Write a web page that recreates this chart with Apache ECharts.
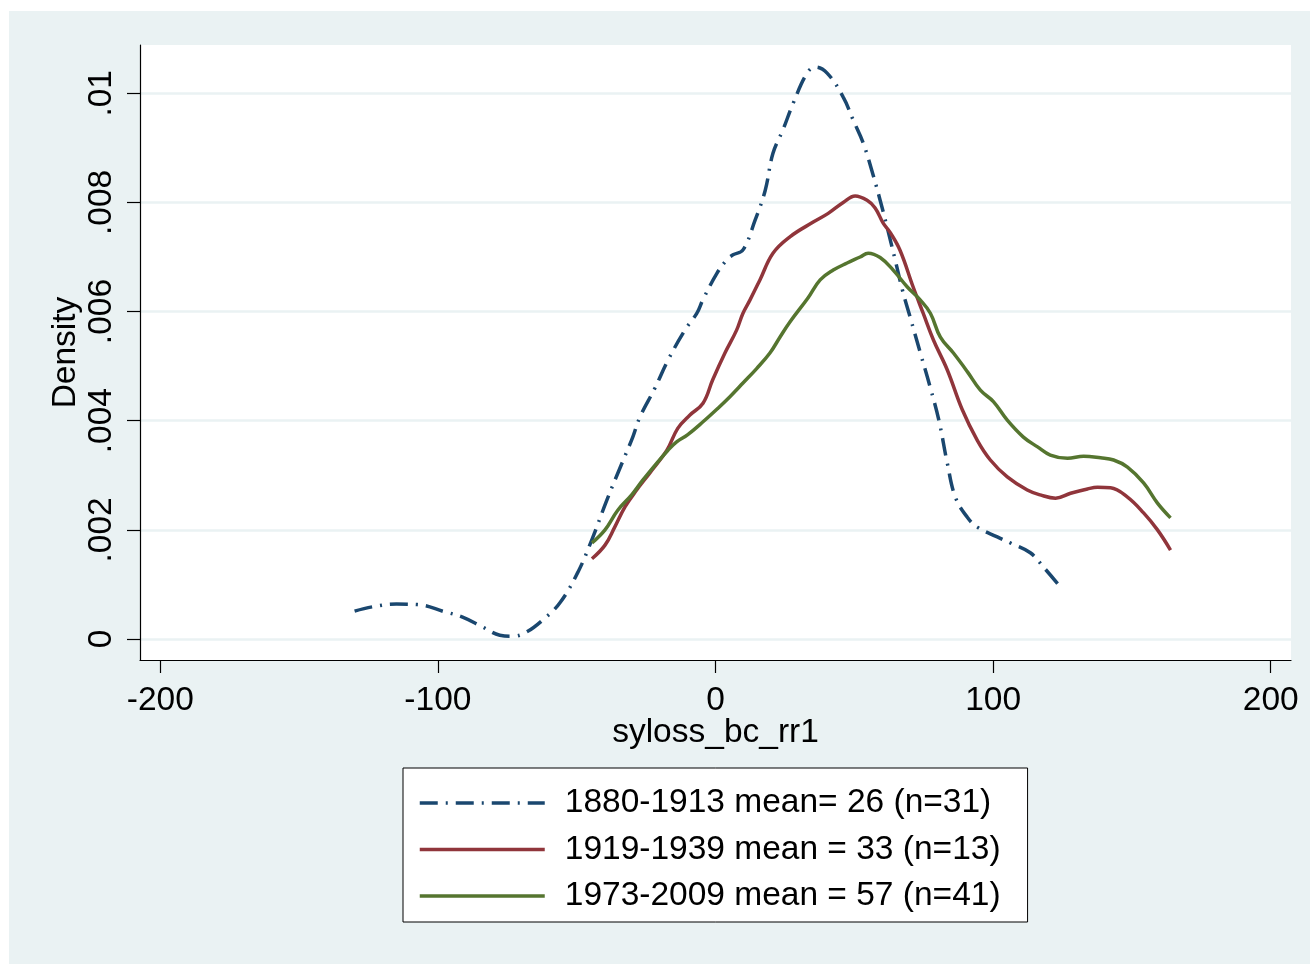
<!DOCTYPE html>
<html>
<head>
<meta charset="utf-8">
<script src="https://cdn.jsdelivr.net/npm/echarts@6/dist/echarts.min.js"></script>
<style>
  html, body { margin: 0; padding: 0; background: #ffffff; }
  #chart { position: absolute; left: 9px; top: 11px; width: 1301px; height: 953px; }
</style>
</head>
<body>
<div id="chart"></div>
<script>
// ---- data ----
const xTicks = [-200, -100, 0, 100, 200];
const yTicks = [0, 0.002, 0.004, 0.006, 0.008, 0.01];

const seriesNames = [
  '1880-1913 mean= 26 (n=31)',
  '1919-1939 mean = 33 (n=13)',
  '1973-2009 mean = 57 (n=41)'
];

const x1880 = [-130.0, -123.5, -114.9, -107.3, -97.6, -91.1, -83.9, -77.7, -73.0, -68.0, -62.2, -56.1, -49.6,
  -44.3, -39.1, -33.7, -29.8, -27.2, -21.8, -17.1, -11.0, -6.7, -4.5, 0.5, 4.1, 6.3, 9.9, 14.3, 17.9, 20.7,
  24.3, 28.0, 33.0, 35.9, 40.2, 46.0, 49.6, 53.2, 56.8, 59.3, 61.8, 64.7, 67.3, 70.1, 73.8, 77.3, 80.5,
  83.5, 86.4, 90.7, 94.3, 101.5, 106.2, 113.4, 118.1, 124.3];
const d1880 = [0.00051, 0.00059, 0.00064, 0.00063, 0.00050, 0.00040, 0.00022, 0.00007, 0.00005, 0.00013, 0.00035, 0.00066, 0.00122,
  0.00185, 0.00255, 0.00322, 0.00370, 0.00407, 0.00460, 0.00511, 0.00566, 0.00597, 0.00622, 0.00670, 0.00695, 0.00704, 0.00713, 0.00768, 0.00822, 0.00890,
  0.00933, 0.00982, 0.01037, 0.01048, 0.01037, 0.00993, 0.00951, 0.00909, 0.00850, 0.00804, 0.00755, 0.00695, 0.00640, 0.00590, 0.00524, 0.00462, 0.00400,
  0.00322, 0.00260, 0.00223, 0.00205, 0.00187, 0.00176, 0.00158, 0.00132, 0.00095];

const x1919 = [-44.5, -39.8, -36.3, -32.6, -28.4, -23.7, -17.5, -13.6, -9.3, -4.5, -1.0, 3.4, 7.6, 9.9, 12.4,
  16.0, 20.7, 26.8, 35.2, 40.6, 46.0, 50.3, 54.6, 57.5, 60.4, 62.9, 66.5, 71.2, 74.8, 78.5, 83.5, 88.9,
  94.3, 99.0, 105.1, 112.3, 117.0, 122.5, 127.9, 134.0, 137.6, 142.3, 148.4, 154.2, 159.2, 163.9];
const d1919 = [0.00147, 0.00172, 0.00205, 0.00242, 0.00273, 0.00304, 0.00346, 0.00386, 0.00410, 0.00432, 0.00475, 0.00524, 0.00566, 0.00597, 0.00621,
  0.00658, 0.00707, 0.00737, 0.00764, 0.00780, 0.00800, 0.00812, 0.00804, 0.00790, 0.00762, 0.00745, 0.00712, 0.00645, 0.00597, 0.00548, 0.00493, 0.00420,
  0.00364, 0.00328, 0.00297, 0.00273, 0.00264, 0.00258, 0.00267, 0.00275, 0.00278, 0.00277, 0.00260, 0.00231, 0.00200, 0.00163];

const x1973 = [-44.5, -39.8, -35.2, -30.2, -26.2, -21.2, -17.1, -14.0, -10.1, -4.5, 0.9, 5.2, 9.9, 14.9, 19.6, 23.2, 26.8,
  33.3, 37.7, 42.4, 47.4, 52.1, 55.0, 59.3, 64.0, 69.1, 73.8, 77.4, 81.0, 85.7, 90.7, 95.4, 100.1, 105.1,
  110.9, 116.0, 120.6, 126.8, 132.6, 138.7, 143.4, 148.4, 154.2, 159.2, 163.9];
const d1973 = [0.00176, 0.00200, 0.00236, 0.00264, 0.00291, 0.00322, 0.00346, 0.00361, 0.00374, 0.00398, 0.00423, 0.00444, 0.00469, 0.00496, 0.00524, 0.00553, 0.00581,
  0.00625, 0.00658, 0.00676, 0.00689, 0.00700, 0.00707, 0.00699, 0.00676, 0.00645, 0.00621, 0.00597, 0.00553, 0.00524, 0.00490, 0.00456, 0.00435, 0.00401,
  0.00370, 0.00352, 0.00337, 0.00331, 0.00335, 0.00332, 0.00328, 0.00315, 0.00286, 0.00249, 0.00222];

// ---- chart ----
const FONT = '"Liberation Sans", Arial, sans-serif';
const FS = 33.5;
const pairs = (xs, ys) => xs.map((v, i) => [v, ys[i]]);
const fmtY = v => (v === 0 ? '0' : String(v).replace(/^0/, ''));

const chart = echarts.init(document.getElementById('chart'));
chart.setOption({
  animation: false,
  backgroundColor: '#eaf2f3',
  textStyle: { fontFamily: FONT },
  grid: {
    left: 131, top: 34, right: 19, bottom: 304,
    show: true, backgroundColor: '#ffffff', borderWidth: 0
  },
  xAxis: {
    type: 'value', min: -207.3, max: 207.3,
    name: 'syloss_bc_rr1', nameLocation: 'middle', nameGap: 56, nameMoveOverlap: false,
    nameTextStyle: { fontSize: FS, color: '#000', fontFamily: FONT },
    axisLine: { onZero: false, lineStyle: { color: '#000', width: 1.2 } },
    axisTick: { customValues: xTicks, length: 13, lineStyle: { color: '#000', width: 1.2 } },
    axisLabel: { customValues: xTicks, fontSize: FS, color: '#000', margin: 24, fontFamily: FONT },
    splitLine: { show: false }
  },
  yAxis: {
    type: 'value', min: -0.000385, max: 0.010885,
    name: 'Density', nameLocation: 'middle', nameGap: 57, nameRotate: 90, nameMoveOverlap: false,
    nameTextStyle: { fontSize: FS, color: '#000', fontFamily: FONT },
    axisLine: { show: true, onZero: false, lineStyle: { color: '#000', width: 1.2 } },
    axisTick: { show: true, customValues: yTicks, length: 13, lineStyle: { color: '#000', width: 1.2 } },
    axisLabel: { customValues: yTicks, rotate: 90, fontSize: FS, color: '#000', margin: 21,
                 fontFamily: FONT, formatter: fmtY },
    splitLine: { show: true, lineStyle: { color: '#eaf2f3', width: 2.5 } }
  },
  legend: {
    orient: 'vertical', left: 394, top: 757,
    backgroundColor: '#ffffff', borderColor: '#000', borderWidth: 1, borderRadius: 0,
    padding: [18, 27, 9, 15],
    itemWidth: 125, itemHeight: 20, itemGap: 12.5,
    itemStyle: { color: 'rgba(0,0,0,0)', borderColor: 'rgba(0,0,0,0)', borderWidth: 0 },
    lineStyle: { width: 3.5 },
    textStyle: { fontSize: FS, color: '#000', fontFamily: FONT, padding: [0, 0, 0, 15], lineHeight: 33 },
    data: seriesNames
  },
  series: [
    {
      name: seriesNames[0], type: 'line', data: pairs(x1880, d1880),
      showSymbol: false, symbol: 'none', smooth: 0.4,
      lineStyle: { color: '#1a476f', width: 3.5, type: [18, 8, 2, 8], cap: 'butt' },
      itemStyle: { color: '#1a476f' }
    },
    {
      name: seriesNames[1], type: 'line', data: pairs(x1919, d1919),
      showSymbol: false, symbol: 'none', smooth: 0.4,
      lineStyle: { color: '#90353b', width: 3.5 },
      itemStyle: { color: '#90353b' }
    },
    {
      name: seriesNames[2], type: 'line', data: pairs(x1973, d1973),
      showSymbol: false, symbol: 'none', smooth: 0.4,
      lineStyle: { color: '#55752f', width: 3.5 },
      itemStyle: { color: '#55752f' }
    }
  ]
});
</script>
</body>
</html>
